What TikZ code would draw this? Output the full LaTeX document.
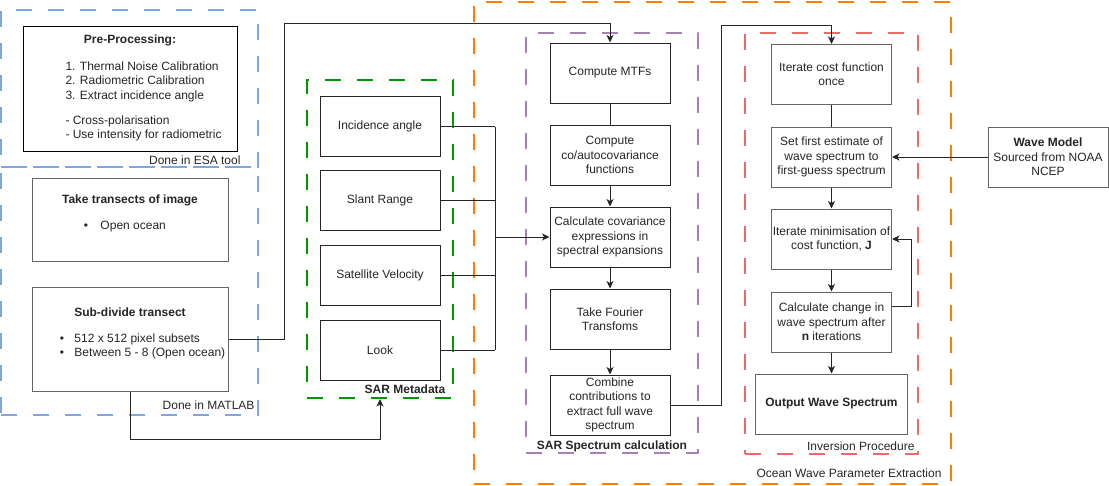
\documentclass[tikz,border=0pt]{standalone}
\usepackage{fontspec}
\setmainfont{Liberation Sans}
\usetikzlibrary{positioning,arrows.meta}
\definecolor{zblue}{HTML}{7EA6E0}
\definecolor{zgreen}{HTML}{009900}
\definecolor{zorange}{HTML}{FF8000}
\definecolor{zpurple}{HTML}{A680B8}
\definecolor{zred}{HTML}{EA6B66}
\tikzset{
    box/.style={draw=black!85, fill=white, rectangle, line width=1pt, minimum width=120pt, minimum height=60pt, align=center, inner sep=1pt},
    gbox/.style={box, draw=black!60},
    zone/.style={draw=#1, dash pattern=on 16pt off 16pt, line width=2pt, rectangle, inner sep=0pt},
    lbl/.style={inner sep=0pt}
}

\begin{document}
\begin{tikzpicture}[x=1pt, y=-1pt, -{Stealth[length=7.5pt, width=7pt, inset=2pt]}, line width=1pt, draw=black!85, text=black!85, font=\fontsize{12}{14.3}\selectfont]
\useasboundingbox (0, 0) rectangle (1109, 485);

% groups
\path (129.5, 88.5) node[zone=zblue, minimum width=257pt, minimum height=157pt] (esa) {};
\path (129.5, 291) node[zone=zblue, minimum width=257pt, minimum height=248pt] (matlab) {};
\path (380, 239) node[zone=zgreen, minimum width=146pt, minimum height=318pt] (meta) {};
\path (712.5, 242.5) node[zone=zorange, minimum width=477pt, minimum height=482pt] (ocean) {};
\path (612, 243) node[zone=zpurple, minimum width=172pt, minimum height=420pt] (spec) {};
\path (831.5, 243.5) node[zone=zred, minimum width=173pt, minimum height=421pt] (inv) {};

\path (241, 160) node[lbl, anchor=east] (esa-lbl) {Done in ESA tool};
\path (255, 405) node[lbl, anchor=east] (matlab-lbl) {Done in MATLAB};
\path (446, 389) node[lbl, anchor=east] (meta-lbl) {\textbf{SAR Metadata}};
\path (612, 446) node[lbl] (spec-lbl) {\textbf{SAR Spectrum calculation}};
\path (915, 446) node[lbl, anchor=east] (inv-lbl) {Inversion Procedure};
\path (942, 473) node[lbl, anchor=east] (ocean-lbl) {Ocean Wave Parameter Extraction};

% left column
\path (130, 88.5) node[box, draw=black, minimum width=214pt, minimum height=125pt] (pre) {};
\path (130, 40) node (pre-title) {\textbf{Pre-Processing:}};
\path (65, 101.5) node[lbl, anchor=west, align=left] (pre-list) {1. Thermal Noise Calibration\\2. Radiometric Calibration\\3. Extract incidence angle\\[11pt]- Cross-polarisation\\- Use intensity for radiometric};

\path (130, 219.5) node[gbox, minimum width=196pt, minimum height=83pt] (trans) {};
\path (130, 200) node (trans-title) {\textbf{Take transects of image}};
\path (83.4, 227) node[lbl, anchor=west] (trans-list) {\makebox[16.6pt][l]{•}Open ocean};

\path (130, 339) node[gbox, minimum width=196pt, minimum height=104pt] (sub) {};
\path (130, 312) node (sub-title) {\textbf{Sub-divide transect}};
\path (59.4, 346.5) node[lbl, anchor=west, align=left] (sub-list) {\makebox[14.6pt][l]{•}512 x 512 pixel subsets\\\makebox[14.6pt][l]{•}Between 5 - 8 (Open ocean)};

% SAR metadata
\foreach \na / \y / \txt in {inc/126.5/Incidence angle, slant/200.5/Slant Range, vel/275.5/Satellite Velocity, look/350/Look}
    \path (380, \y) node[box] (\na) {\txt};

% SAR spectrum
\foreach \na / \y / \txt in {mtf/73/Compute MTFs, cov/155/{Compute\\co/autocovariance\\functions}, calc/237/{Calculate covariance\\expressions in\\spectral expansions}, four/319/{Take Fourier\\Transfoms}, comb/405/{Combine\\contributions to\\extract full wave\\spectrum}}
    \path (610, \y) node[box] (\na) {\txt};

% inversion
\foreach \na / \y / \txt in {itc/74.5/{Iterate cost function\\once}, set/157/{Set first estimate of\\wave spectrum to\\first-guess spectrum}, itm/239/{Iterate minimisation of\\cost function, \textbf{J}}, chg/322/{Calculate change in\\wave spectrum after\\\textbf{n} iterations}}
    \path (831.5, \y) node[gbox] (\na) {\txt};
\path (831.5, 404) node[gbox, minimum width=152pt] (out) {\textbf{Output Wave Spectrum}};
\path (1048, 157) node[gbox] (wave) {\textbf{Wave Model}\\Sourced from NOAA\\NCEP};

% connectors
\draw[-] (mtf) -- (cov);
\foreach \a / \b in {cov/calc, calc/four, four/comb}
    \draw (\a) -- (\b);
\draw[-] (itc) -- (set);
\foreach \a / \b in {set/itm, itm/chg, chg/out}
    \draw (\a) -- (\b);
\draw (wave) -- (set);
\draw ([yshift=16pt]chg.east) -- ++(19, 0) |- (itm.east);

\coordinate (bus) at (495, 237);
\foreach \na in {inc, slant, vel, look}
    \draw[-] (\na) -- (bus |- \na);
\draw[-] (bus |- inc) -- (bus |- look);
\draw (bus) -- (calc);

\draw (sub.east) -- (284, 339) -- (284, 23) -| (mtf.north);
\draw (sub.south) -- ++(0, 48) -| (meta.south);
\draw (comb.east) -- (721, 405) -- (721, 25) -| (itc.north);
\end{tikzpicture}
\end{document}
